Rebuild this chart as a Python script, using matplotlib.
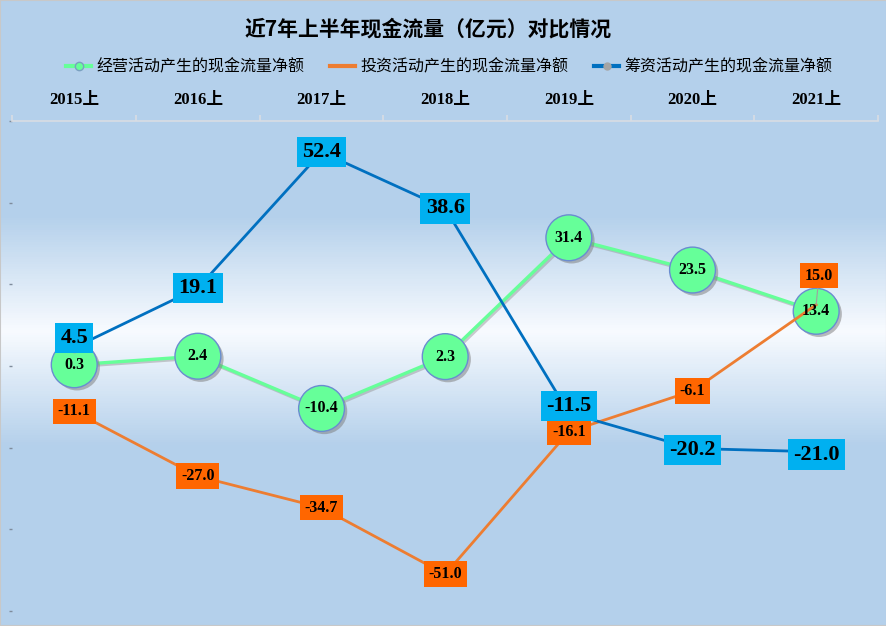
import numpy as np
import matplotlib
matplotlib.use("Agg")
import matplotlib.pyplot as plt
import matplotlib.patheffects as pe
from matplotlib.lines import Line2D
from matplotlib.colors import LinearSegmentedColormap

plt.rcParams['font.family'] = ['Noto Sans CJK SC', 'DejaVu Sans']

title = "近7年上半年现金流量（亿元）对比情况"
periods = ["2015上", "2016上", "2017上", "2018上", "2019上", "2020上", "2021上"]
series_names = ["经营活动产生的现金流量净额", "投资活动产生的现金流量净额", "筹资活动产生的现金流量净额"]
operating = [0.3, 2.4, -10.4, 2.3, 31.4, 23.5, 13.4]
investing = [-11.1, -27.0, -34.7, -51.0, -16.1, -6.1, 15.0]
financing = [4.5, 19.1, 52.4, 38.6, -11.5, -20.2, -21.0]

# label offsets in points (x, y)
investing_offsets = [(0, 0)] * 6 + [(2, 21)]
financing_offsets = [(0, 7), (0, 0), (0, 0), (0, 0), (0, 5), (0, -1), (0, -2)]

green = "#66ff99"
orange_line = "#ed7d31"
orange_box = "#ff6600"
blue_line = "#0070c0"
blue_box = "#00b0f0"
num_font = ['Liberation Serif', 'Noto Sans CJK SC']

fig = plt.figure(figsize=(8.87, 6.26), dpi=100)

# background gradient
bg = fig.add_axes([0, 0, 1, 1], zorder=-10)
blue_bg = "#b4d0eb"
cmap = LinearSegmentedColormap.from_list(
    "bg", [(0, blue_bg), (215 / 626, blue_bg), (331 / 626, "#f8fbff"), (447 / 626, blue_bg), (1, blue_bg)])
bg.imshow(np.linspace(0, 1, 626).reshape(-1, 1), aspect="auto", cmap=cmap, extent=[0, 1, 1, 0])
bg.set_xlim(0, 1)
bg.set_ylim(1, 0)
bg.set_xticks([])
bg.set_yticks([])
for s in bg.spines.values():
    s.set_color("#c8c8c8")
    s.set_linewidth(1.5)

ax = fig.add_axes([12.4 / 887, 1 - 611 / 626, (878 - 12.4) / 887, (611 - 121) / 626])
ax.set_facecolor("none")
x = np.arange(len(periods))
ax.set_xlim(-0.5, len(periods) - 0.5)
ax.set_ylim(-60, 60)

# operating: green line with shadowed circles
ax.plot(x, operating, color=green, lw=2.4, zorder=2, solid_capstyle="round",
        path_effects=[pe.SimpleLineShadow(offset=(1.2, -1.2), shadow_color="#909090", alpha=0.45), pe.Normal()])
ax.plot(x, operating, ls="none", marker="o", ms=33, mfc=green, mec="#6a8cd0", mew=1, zorder=3,
        path_effects=[pe.SimplePatchShadow(offset=(2, -2), shadow_rgbFace="#7a7a7a", alpha=0.5), pe.Normal()])
for xi, v in zip(x, operating):
    ax.text(xi, v, f"{v:.1f}", ha="center", va="center", fontsize=11.5, fontweight="bold",
            family=num_font, zorder=6)

# investing: orange line, orange boxes
ax.plot(x, investing, color=orange_line, lw=2.0, zorder=4)
for xi, v, off in zip(x, investing, investing_offsets):
    arrow = None
    if off != (0, 0):
        arrow = dict(arrowstyle="-", color="#a0a0a0", lw=0.8, shrinkA=0, shrinkB=0)
    ax.annotate(f"{v:.1f}", (xi, v), xytext=off, textcoords="offset points",
                ha="center", va="center", fontsize=11.5, fontweight="bold", family=num_font,
                bbox=dict(boxstyle="square,pad=0.3", fc=orange_box, ec="none"),
                arrowprops=arrow, zorder=7)

# financing: blue line, blue boxes
ax.plot(x, financing, color=blue_line, lw=2.0, zorder=4, marker="o", ms=6, mfc="#a5a5a5", mec="#a5a5a5")
for xi, v, off in zip(x, financing, financing_offsets):
    ax.annotate(f"{v:.1f}", (xi, v), xytext=off, textcoords="offset points",
                ha="center", va="center", fontsize=16, fontweight="bold", family=num_font,
                bbox=dict(boxstyle="square,pad=0.24", fc=blue_box, ec="none"), zorder=8)

# axes styling
for side in ["left", "right", "bottom"]:
    ax.spines[side].set_visible(False)
ax.spines["top"].set_color("#d9dde3")
ax.spines["top"].set_linewidth(1.2)
ax.xaxis.tick_top()
ax.set_xticks(np.arange(-0.5, len(periods)), labels=[])
ax.set_xticks(x, labels=periods, minor=True)
ax.tick_params(axis="x", which="major", length=4, color="#d9dde3", width=1.2)
ax.tick_params(axis="x", which="minor", length=0, pad=9.5)
for lab in ax.get_xticklabels(minor=True):
    lab.set_fontfamily(num_font)
    lab.set_fontweight("bold")
    lab.set_fontsize(12)
ax.set_yticks(np.arange(-60, 61, 20), labels=[])
ax.tick_params(axis="y", length=2, width=1, color="#7f8c9c")

fig.text(428 / 887, 1 - 28.5 / 626, title, ha="center", va="center", fontsize=15, fontweight="bold")

handles = [
    Line2D([], [], color=green, lw=3, marker="o", ms=6, mfc=green, mec="#7aa0c0"),
    Line2D([], [], color=orange_line, lw=3),
    Line2D([], [], color=blue_line, lw=3, marker="o", ms=5, mfc="#a5a5a5", mec="#a5a5a5"),
]
fig.legend(handles, series_names, loc="center", bbox_to_anchor=(449 / 887, 1 - 67 / 626), ncol=3,
           frameon=False, fontsize=11.5, handlelength=1.6, handletextpad=0.3, columnspacing=1.6)

fig.savefig("out.png", dpi=100)
